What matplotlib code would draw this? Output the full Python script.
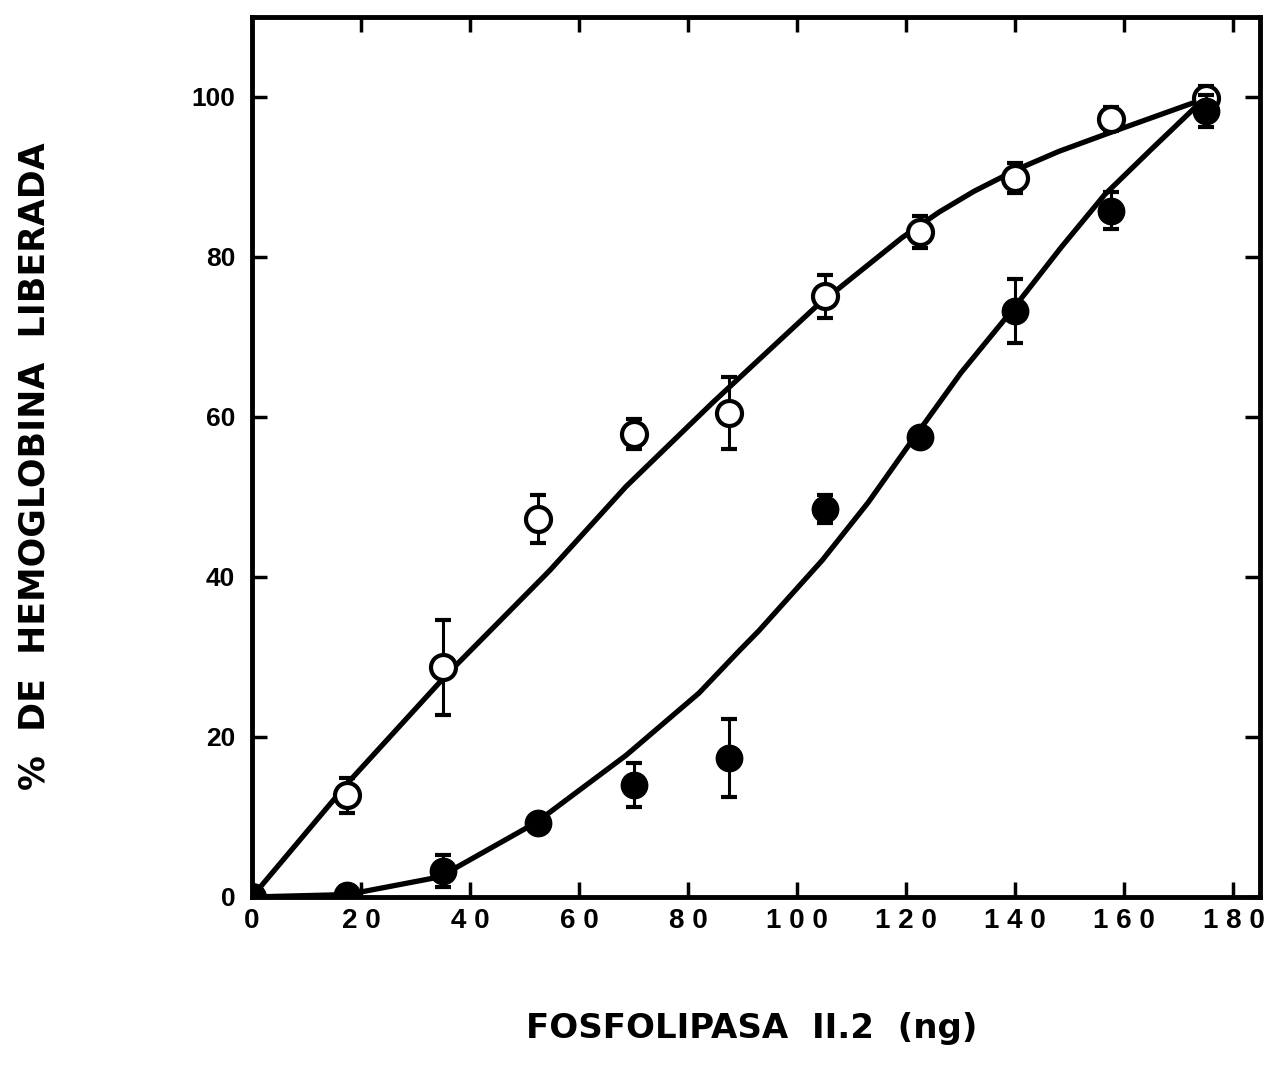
import numpy as np
import matplotlib
matplotlib.use("Agg")
import matplotlib.pyplot as plt

# dose of phospholipase (ng)
dose = [0, 17.5, 35, 52.5, 70, 87.5, 105, 122.5, 140, 157.5, 175]

# open circles
open_y = [0, 12.7, 28.7, 47.2, 57.9, 60.5, 75.1, 83.1, 89.9, 97.2, 99.9]
open_err = [0, 2.2, 5.9, 3.0, 1.9, 4.5, 2.7, 2.0, 1.9, 1.5, 1.5]

# filled circles
filled_y = [0, 0.2, 3.2, 9.3, 14.0, 17.4, 48.5, 57.5, 73.3, 85.8, 98.3]
filled_err = [0, 1.2, 2.0, 0.8, 2.7, 4.9, 1.8, 1.0, 4.0, 2.3, 2.0]

# fitted curves
open_fit_x = [0, 17.9, 35.6, 54.6, 68.6, 84.5, 103.3, 119.2, 126, 132.4, 140.5, 148, 156.4, 165, 173.6]
open_fit_y = [0, 14.5, 27.7, 40.8, 51.3, 61.8, 73.7, 82.4, 85.6, 88.2, 91.0, 93.2, 95.3, 97.4, 99.5]
filled_fit_x = [0, 17.5, 34.4, 52.1, 68.6, 82, 89.4, 93, 104.6, 113, 121, 130, 139, 148.4, 156.4, 165, 173.6]
filled_fit_y = [0, 0.3, 2.5, 9.3, 17.7, 25.5, 30.8, 33.3, 42.1, 49.3, 57, 65.5, 73, 81.2, 87.8, 93.5, 99.1]

xticks = [0, 20, 40, 60, 80, 100, 120, 140, 160, 180]
xticklabels = [" ".join(str(t)) for t in xticks]
yticks = [0, 20, 40, 60, 80, 100]

plt.rcParams['font.family'] = ['Liberation Sans', 'DejaVu Sans']

fig = plt.figure(figsize=(12.66, 10.71), dpi=100)
ax = fig.add_axes([0.199, 0.1625, 0.796, 0.8217])

ax.plot(open_fit_x, open_fit_y, color='k', lw=3.8, solid_capstyle='round',
        solid_joinstyle='round', zorder=2)
ax.plot(filled_fit_x, filled_fit_y, color='k', lw=3.8, solid_capstyle='round',
        solid_joinstyle='round', zorder=2)

ax.errorbar(dose, open_y, yerr=open_err, fmt='o', ms=18, mfc='white', mec='k', mew=3,
            ecolor='k', elinewidth=2.2, capsize=6, capthick=3, zorder=3)
ax.errorbar(dose, filled_y, yerr=filled_err, fmt='o', ms=19, mfc='k', mec='k',
            ecolor='k', elinewidth=2.2, capsize=6, capthick=3, zorder=4)

ax.set_xlim(0, 184.8)
ax.set_ylim(0, 110)
ax.set_xticks(xticks)
ax.set_xticklabels(xticklabels)
ax.set_yticks(yticks)
ax.tick_params(direction='in', length=11, width=2.5, top=True, right=True,
               labelsize=20, pad=8)
for lab in ax.get_xticklabels() + ax.get_yticklabels():
    lab.set_fontweight('bold')
ax.tick_params(axis='y', labelsize=19, pad=12)
for s in ax.spines.values():
    s.set_linewidth(3.5)

fig.text(0.594, 0.040, "FOSFOLIPASA  II.2  (ng)", fontsize=24.5, fontweight='bold',
         family='DejaVu Sans', ha='center', va='center')
fig.text(0.0276, 0.565, "%  DE  HEMOGLOBINA  LIBERADA", fontsize=25, fontweight='bold',
         family='DejaVu Sans', ha='center', va='center', rotation=90)

fig.savefig("out.png", dpi=100)
